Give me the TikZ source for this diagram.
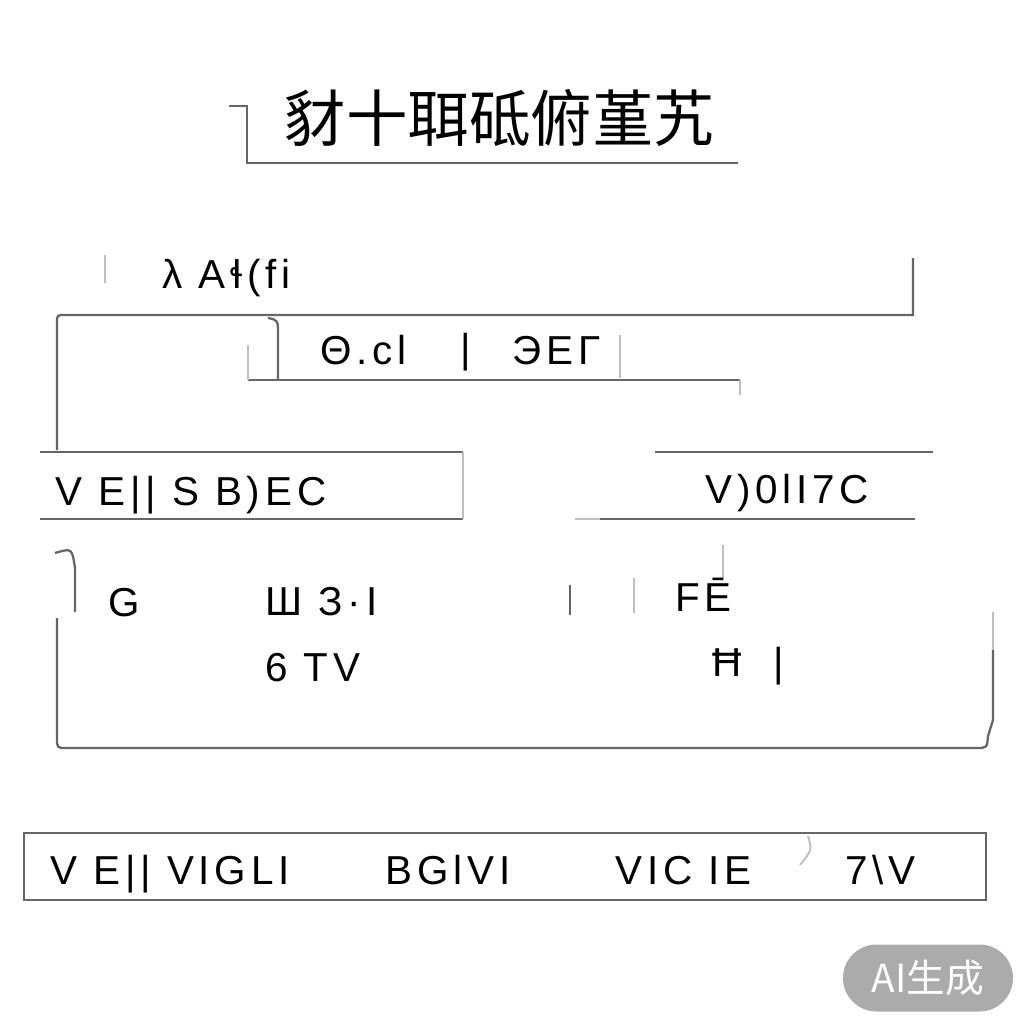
\documentclass[tikz,border=0pt]{standalone}
\usepackage{fontspec}
\setmainfont{Liberation Sans}
\newfontfamily\cjk{Noto Sans CJK SC}
\begin{document}
\begin{tikzpicture}[x=.02cm,y=-.02cm,
  ln/.style={draw=black!60,line width=1.3pt},lt/.style={draw=black!25,line width=1.1pt},
  lbl/.style={anchor=base west,inner sep=0pt,font=\fontsize{23}{25}\selectfont\addfontfeature{LetterSpace=12}}]
\useasboundingbox[fill=white](0,0)rectangle(1024,1024);
% title
\node[inner sep=0pt,font=\cjk\fontsize{35}{40}\selectfont](title)at(500,118){豺十聑砥俯堇艽};
\draw[ln](229,106)--(247,106)--(247,163)--(738,163);
% upper frame
\draw[ln](913,258)--(913,315)--(65,315)..controls(57,315)..(57,323)--(57,450);\draw[lt](105,255)--(105,283);
\node[lbl](la)at(162,288){λ Aɬ(fi};
\draw[ln](268,318)..controls(278,320)..(278,335)--(278,380);\draw[ln](248,380)--(740,380);\draw[lt](740,380)--(740,395) (248,345)--(248,380) (620,335)--(620,378);
\node[lbl](lb)at(320,364){Θ.cl};\node[lbl](lc)at(460,362){|};\node[lbl](ld)at(512,364){ЭEΓ};
% left and right bars
\draw[ln](40,452)--(463,452) (40,519)--(463,519);\draw[lt](463,452)--(463,519);
\node[lbl](le)at(55,505){V E|| S B)EC};
\draw[ln](655,452)--(933,452) (600,519)--(915,519);\draw[lt](575,519)--(600,519);
\node[lbl](lf)at(705,503){V)0lI7C};
% big box
\draw[ln](55,553)..controls(72,548)..(75,568)--(75,612);
\draw[ln](57,618)--(57,738)..controls(57,748)..(67,748)--(976,748)..controls(987,748)..(988,736)--(993,720)--(993,650);\draw[lt](993,650)--(993,612) (723,545)--(723,578) (634,578)--(634,613);
\draw[ln](570,585)--(570,615);
\node[lbl](lg)at(108,616){G};\node[lbl](lh)at(265,615){Ш З·I};\node[lbl](li)at(265,681){6 TV};
\node[lbl](lj)at(675,611){FĒ};\node[lbl](lk)at(712,676){Ħ \ |};
% bottom bar
\draw[ln](24,833)rectangle(986,900);\draw[lt](808,836)..controls(812,850)..(800,865);
\node[lbl](ll)at(50,884){V E|| VIGLI};\node[lbl](lm)at(385,884){BGlVI};\node[lbl](ln)at(615,884){VIC IE};\node[lbl](lo)at(845,884){7\textbackslash V};
% badge
\node[fill=black!33,text=white,rounded corners=.67cm,minimum width=3.4cm,minimum height=1.34cm,font=\cjk\fontsize{22}{24}\selectfont](ai)at(928,978){AI生成};
\end{tikzpicture}
\end{document}
